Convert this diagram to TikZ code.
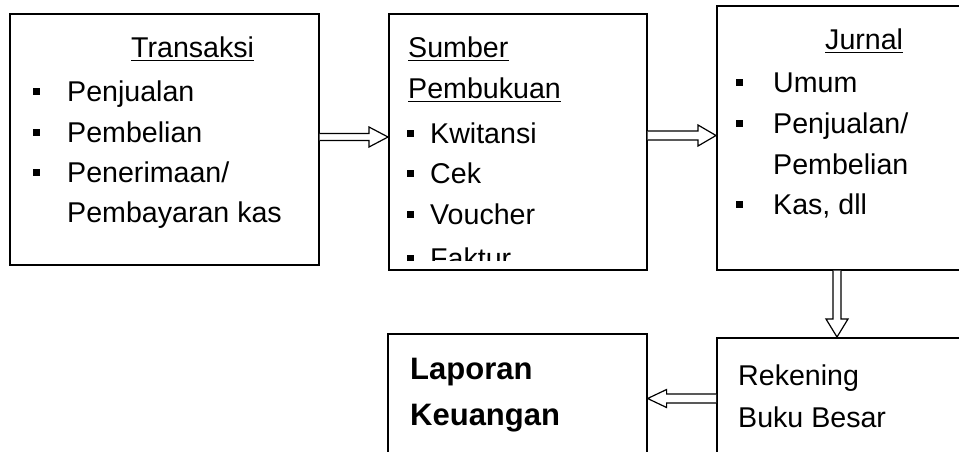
\documentclass[tikz,border=0pt]{standalone}
\usepackage{fontspec}
\setmainfont{Liberation Sans}
\usetikzlibrary{calc}
\newcommand\bsq{\rule[6pt]{7pt}{7.5pt}}
\begin{document}
\begin{tikzpicture}[x=1pt,y=1pt,
  box/.style={draw, line width=1.6pt, inner sep=0pt, anchor=north west},
  txt/.style={anchor=base west, inner sep=0pt, font=\fontsize{28.6}{34}\selectfont},
  btxt/.style={anchor=base west, inner sep=0pt, font=\fontsize{31}{37}\selectfont\bfseries},
  uline/.style={line width=1.6pt},
  harrow/.style={draw, fill=white, line width=1.2pt, line join=miter}]
\useasboundingbox[fill=white] (0,0) rectangle (959,-451);

% boxes
\node[box, minimum width=309pt, minimum height=251pt] (b1) at (9,-13) {};
\node[box, minimum width=258pt, minimum height=256pt] (b2) at (388,-13) {};
\node[box, minimum width=290pt, minimum height=264pt] (b3) at (716,-5) {};
\node[box, minimum width=259pt, minimum height=140pt] (b4) at (387,-333) {};
\node[box, minimum width=290pt, minimum height=140pt] (b5) at (716,-337) {};

% box 1
\node[txt] (t1) at (131,-57) {Transaksi};
\draw[uline] ($(t1.base west)+(0,-3.5)$) -- ($(t1.base east)+(0,-3.5)$);
\node[txt] (t1a) at (67,-101) {\llap{\bsq\hspace{27pt}}Penjualan};
\node[txt] (t1b) at (67,-142) {\llap{\bsq\hspace{27pt}}Pembelian};
\node[txt] (t1c) at (67,-182) {\llap{\bsq\hspace{27pt}}Penerimaan/};
\node[txt] (t1d) at (67,-222) {Pembayaran kas};

% box 2
\node[txt] (t2) at (408,-57) {Sumber};
\draw[uline] ($(t2.base west)+(0,-3.5)$) -- ($(t2.base east)+(0,-3.5)$);
\node[txt] (t2p) at (408,-98) {Pembukuan};
\draw[uline] ($(t2p.base west)+(0,-3.5)$) -- ($(t2p.base east)+(0,-3.5)$);
\node[txt] (t2a) at (430,-143) {\llap{\bsq\hspace{16pt}}Kwitansi};
\node[txt] (t2b) at (430,-183) {\llap{\bsq\hspace{16pt}}Cek};
\node[txt] (t2c) at (430,-224) {\llap{\bsq\hspace{16pt}}Voucher};
\begin{scope}
\clip (388,-13) rectangle (646,-260);
\node[txt] (t2d) at (430,-268.5) {\llap{\bsq\hspace{16pt}}Faktur};
\end{scope}

% box 3
\node[txt] (t3) at (825,-49) {Jurnal};
\draw[uline] ($(t3.base west)+(0,-3.5)$) -- ($(t3.base east)+(0,-3.5)$);
\node[txt] (t3a) at (773,-92) {\llap{\bsq\hspace{30pt}}Umum};
\node[txt] (t3b) at (773,-133) {\llap{\bsq\hspace{30pt}}Penjualan/};
\node[txt] (t3c) at (773,-174) {Pembelian};
\node[txt] (t3d) at (773,-214) {\llap{\bsq\hspace{30pt}}Kas, dll};

% box 4
\node[btxt] (t4a) at (410,-379) {Laporan};
\node[btxt] (t4b) at (410,-425) {Keuangan};

% box 5
\node[txt] (t5a) at (738,-385) {Rekening};
\node[txt] (t5b) at (738,-427) {Buku Besar};

% arrows
\draw[harrow] let \p1=(b1.east), \p2=(b2.west) in
  (\x1,-133.5) -- (\x2-19pt,-133.5) -- (\x2-19pt,-127) -- (\x2,-137)
  -- (\x2-19pt,-147) -- (\x2-19pt,-140.5) -- (\x1,-140.5);
\draw[harrow] let \p1=(b2.east), \p2=(b3.west) in
  (\x1,-131) -- (\x2-18pt,-131) -- (\x2-18pt,-125) -- (\x2,-135.5)
  -- (\x2-18pt,-146) -- (\x2-18pt,-140) -- (\x1,-140);
\draw[harrow] let \p1=(b3.south), \p2=(b5.north) in
  (833,\y1) -- (833,\y2+18pt) -- (826,\y2+18pt) -- (837,\y2)
  -- (848,\y2+18pt) -- (841,\y2+18pt) -- (841,\y1);
\draw[harrow] let \p1=(b5.west), \p2=(b4.east) in
  (\x1,-394) -- (\x2+19pt,-394) -- (\x2+19pt,-389.5) -- (\x2,-398.5)
  -- (\x2+19pt,-407.5) -- (\x2+19pt,-403) -- (\x1,-403);
\end{tikzpicture}
\end{document}
